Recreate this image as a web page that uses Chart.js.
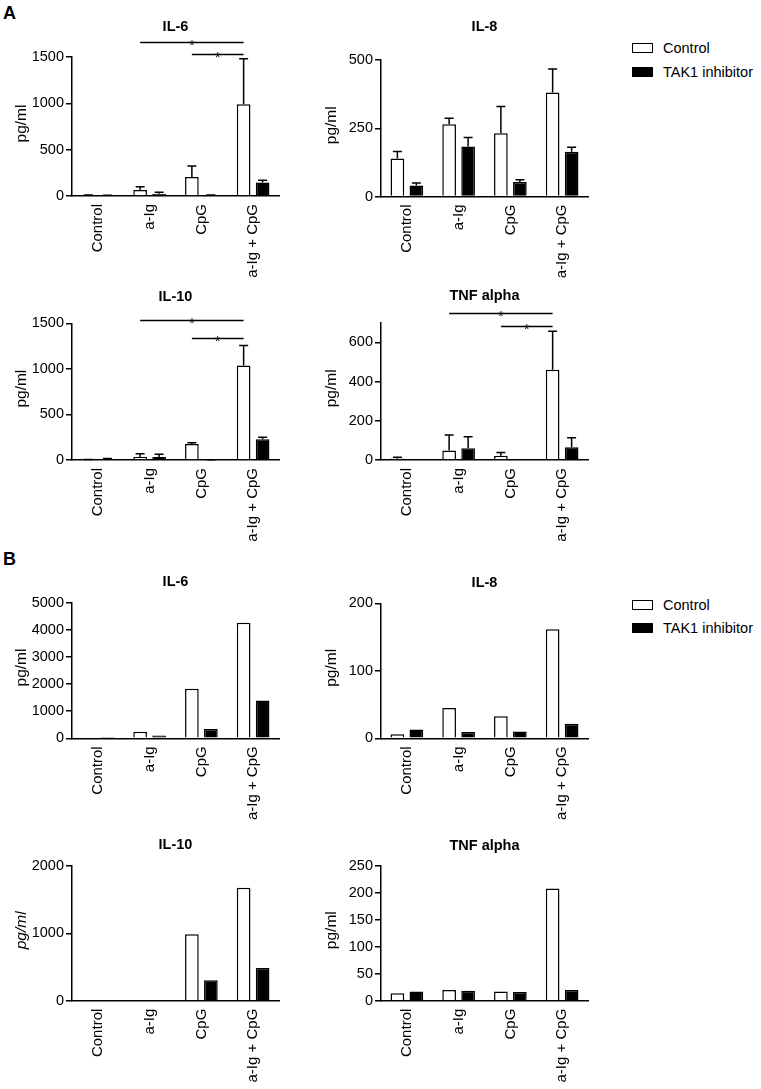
<!DOCTYPE html>
<html><head><meta charset="utf-8">
<script src="https://cdn.jsdelivr.net/npm/chart.js@4.4.1/dist/chart.umd.min.js"></script>
<style>
body{margin:0;background:#fff;width:761px;height:1089px;position:relative;overflow:hidden;font-family:"Liberation Sans",Arial,sans-serif;color:#000;}
canvas{position:absolute;}
.plbl{position:absolute;font-weight:bold;font-size:18px;line-height:18px;}
.lbox{position:absolute;width:21px;height:10px;box-sizing:border-box;border:1.5px solid #000;}
.ltxt{position:absolute;font-size:14.5px;line-height:16px;white-space:nowrap;}
</style></head><body>
<div class="plbl" style="left:3px;top:4px;">A</div>
<div class="plbl" style="left:3px;top:550px;">B</div>

<div class="lbox" style="left:632px;top:43px;background:#fff;"></div>
<div class="ltxt" style="left:663px;top:40px;">Control</div>
<div class="lbox" style="left:632px;top:67px;background:#000;"></div>
<div class="ltxt" style="left:663px;top:64px;">TAK1 inhibitor</div>

<div class="lbox" style="left:632px;top:600px;background:#fff;"></div>
<div class="ltxt" style="left:663px;top:597px;">Control</div>
<div class="lbox" style="left:632px;top:623px;background:#000;"></div>
<div class="ltxt" style="left:663px;top:620px;">TAK1 inhibitor</div>

<canvas id="aIL6" width="300" height="285" style="left:0px;top:0px;"></canvas>
<canvas id="aIL8" width="300" height="285" style="left:310px;top:0px;"></canvas>
<canvas id="aIL10" width="300" height="265" style="left:0px;top:285px;"></canvas>
<canvas id="aTNF" width="300" height="265" style="left:310px;top:285px;"></canvas>
<canvas id="bIL6" width="300" height="280" style="left:0px;top:550px;"></canvas>
<canvas id="bIL8" width="300" height="280" style="left:310px;top:550px;"></canvas>
<canvas id="bIL10" width="300" height="259" style="left:0px;top:830px;"></canvas>
<canvas id="bTNF" width="300" height="259" style="left:310px;top:830px;"></canvas>

<script>
// ---- data ----
const categories = ['Control', 'a-Ig', 'CpG', 'a-Ig + CpG'];
const seriesNames = ['Control', 'TAK1 inhibitor'];

// Panel A (mean + SEM)
const aIL6Control = [8, 65, 205, 990];
const aIL6ControlErr = [4, 35, 120, 490];
const aIL6Tak1 = [6, 25, 8, 145];
const aIL6Tak1Err = [3, 15, 3, 25];
const aIL6Ticks = [0, 500, 1000, 1500];

const aIL8Control = [139, 265, 232, 381];
const aIL8ControlErr = [26, 22, 98, 86];
const aIL8Tak1 = [40, 183, 53, 164];
const aIL8Tak1Err = [9, 33, 8, 16];
const aIL8Ticks = [0, 250, 500];

const aIL10Control = [4, 33, 176, 1037];
const aIL10ControlErr = [2, 36, 14, 219];
const aIL10Tak1 = [12, 33, 3, 227];
const aIL10Tak1Err = [4, 30, 1, 22];
const aIL10Ticks = [0, 500, 1000, 1500];

const aTNFControl = [8, 48, 22, 460];
const aTNFControlErr = [6, 80, 16, 196];
const aTNFTak1 = [0, 60, 0, 65];
const aTNFTak1Err = [0, 59, 0, 49];
const aTNFTicks = [0, 200, 400, 600];
const aTNFMax = 700;

// significance brackets: [from category, to category, height in pg/ml]
const aIL6Sig = [[1, 3, 1665], [2, 3, 1530]];
const aIL10Sig = [[1, 3, 1537], [2, 3, 1342]];
const aTNFSig = [[1, 3, 750], [2, 3, 685]];

// Panel B (single values)
const bIL6Control = [30, 245, 1830, 4265];
const bIL6Tak1 = [5, 100, 345, 1390];
const bIL6Ticks = [0, 1000, 2000, 3000, 4000, 5000];

const bIL8Control = [6, 45, 32.5, 161.5];
const bIL8Tak1 = [13, 9.5, 10, 21.5];
const bIL8Ticks = [0, 100, 200];

const bIL10Control = [0, 0, 985, 1678];
const bIL10Tak1 = [0, 0, 303, 485];
const bIL10Ticks = [0, 1000, 2000];

const bTNFControl = [14, 20, 17, 208];
const bTNFTak1 = [17, 18.5, 16, 20];
const bTNFTicks = [0, 50, 100, 150, 200, 250];

// ---- drawing ----
const FONT = '"Liberation Sans", Arial, sans-serif';
Chart.defaults.font.family = FONT;
Chart.defaults.color = '#000';

function panel(id, cfg) {
  const el = document.getElementById(id);
  const W = el.width, H = el.height;
  const extras = {
    id: 'extras_' + id,
    afterDatasetsDraw(chart) {
      const c = chart.ctx, ys = chart.scales.y;
      c.save();
      c.strokeStyle = '#000';
      c.lineWidth = 1.5;
      (cfg.errs || []).forEach((errArr, di) => {
        if (!errArr) return;
        const meta = chart.getDatasetMeta(di);
        errArr.forEach((e, i) => {
          if (!e) return;
          const bar = meta.data[i];
          const v = chart.data.datasets[di].data[i];
          const yb = ys.getPixelForValue(v);
          const yt = ys.getPixelForValue(v + e);
          c.beginPath();
          c.moveTo(bar.x, yb); c.lineTo(bar.x, yt);
          c.moveTo(bar.x - 4.5, yt); c.lineTo(bar.x + 4.5, yt);
          c.stroke();
        });
      });
      c.restore();
    },
    afterDraw(chart) {
      const c = chart.ctx, a = chart.chartArea, ys = chart.scales.y;
      c.save();
      c.fillStyle = '#000';
      c.font = 'bold 14.5px ' + FONT;
      c.textAlign = 'center';
      c.textBaseline = 'middle';
      c.fillText(cfg.title, (a.left + a.right) / 2, cfg.titleY);
      c.save();
      c.translate(22, (a.top + a.bottom) / 2 - 3);
      c.rotate(-Math.PI / 2);
      c.font = (cfg.italicY ? 'italic ' : '') + '15.5px ' + FONT;
      c.fillText('pg/ml', 0, 0);
      c.restore();
      const meta0 = chart.getDatasetMeta(0);
      (cfg.sig || []).forEach(([f, t, v]) => {
        const x1 = meta0.data[f].x, x2 = meta0.data[t].x;
        const yy = Math.round(ys.getPixelForValue(v)) + 0.5;
        c.strokeStyle = '#000';
        c.lineWidth = 1.3;
        c.beginPath(); c.moveTo(x1, yy); c.lineTo(x2, yy); c.stroke();
        c.font = '14px ' + FONT;
        c.textBaseline = 'alphabetic';
        c.fillText('*', (x1 + x2) / 2, yy + 7);
      });
      c.restore();
    }
  };
  const ticksArr = cfg.ticks;
  new Chart(el, {
    type: 'bar',
    data: {
      labels: categories,
      datasets: [
        { label: seriesNames[0], data: cfg.control, backgroundColor: '#fff', borderColor: '#000', borderWidth: 1.5 },
        { label: seriesNames[1], data: cfg.tak1, backgroundColor: '#000', borderColor: '#000', borderWidth: 1.5 }
      ]
    },
    options: {
      responsive: false,
      animation: false,
      events: [],
      categoryPercentage: 0.734,
      barPercentage: 0.72,
      layout: { padding: { top: cfg.top, right: W - cfg.right, bottom: 0, left: 0 } },
      plugins: { legend: { display: false }, tooltip: { enabled: false } },
      scales: {
        x: {
          grid: { display: false, drawTicks: false },
          border: { display: true, color: '#000', width: 1.5 },
          ticks: { minRotation: 90, maxRotation: 90, autoSkip: false, padding: 8, font: { size: 15 }, color: '#000' },
          afterFit(s) { s.height = H - cfg.bottom; }
        },
        y: {
          min: 0,
          max: cfg.max !== undefined ? cfg.max : ticksArr[ticksArr.length - 1],
          grid: { display: true, drawOnChartArea: false, drawTicks: true, tickLength: 6, color: '#000', lineWidth: 1.5 },
          border: { display: true, color: '#000', width: 1.5 },
          ticks: { padding: 2, font: { size: 14.5 }, color: '#000', callback: (v) => String(v) },
          afterBuildTicks(s) { s.ticks = ticksArr.map(v => ({ value: v })); },
          afterFit(s) { s.width = cfg.axisX; }
        }
      }
    },
    plugins: [extras]
  });
}

panel('aIL6', { title: 'IL-6', titleY: 27, control: aIL6Control, tak1: aIL6Tak1, errs: [aIL6ControlErr, aIL6Tak1Err], ticks: aIL6Ticks, sig: aIL6Sig, top: 57, bottom: 196, axisX: 72, right: 279 });
panel('aIL8', { title: 'IL-8', titleY: 27, control: aIL8Control, tak1: aIL8Tak1, errs: [aIL8ControlErr, aIL8Tak1Err], ticks: aIL8Ticks, top: 60, bottom: 196.5, axisX: 71, right: 278 });
panel('aIL10', { title: 'IL-10', titleY: 12, control: aIL10Control, tak1: aIL10Tak1, errs: [aIL10ControlErr, aIL10Tak1Err], ticks: aIL10Ticks, sig: aIL10Sig, top: 38.3, bottom: 175, axisX: 72, right: 279 });
panel('aTNF', { title: 'TNF alpha', titleY: 11, control: aTNFControl, tak1: aTNFTak1, errs: [aTNFControlErr, aTNFTak1Err], ticks: aTNFTicks, max: aTNFMax, sig: aTNFSig, top: 37.7, bottom: 175, axisX: 71, right: 278 });
panel('bIL6', { title: 'IL-6', titleY: 32, control: bIL6Control, tak1: bIL6Tak1, ticks: bIL6Ticks, top: 52.7, bottom: 188.3, axisX: 72, right: 279 });
panel('bIL8', { title: 'IL-8', titleY: 32.5, control: bIL8Control, tak1: bIL8Tak1, ticks: bIL8Ticks, top: 53.3, bottom: 188.3, axisX: 71, right: 278 });
panel('bIL10', { title: 'IL-10', titleY: 15, control: bIL10Control, tak1: bIL10Tak1, ticks: bIL10Ticks, italicY: true, top: 36, bottom: 170.7, axisX: 72, right: 279 });
panel('bTNF', { title: 'TNF alpha', titleY: 16, control: bTNFControl, tak1: bTNFTak1, ticks: bTNFTicks, top: 35.7, bottom: 170.7, axisX: 71, right: 278 });
</script>
</body></html>
